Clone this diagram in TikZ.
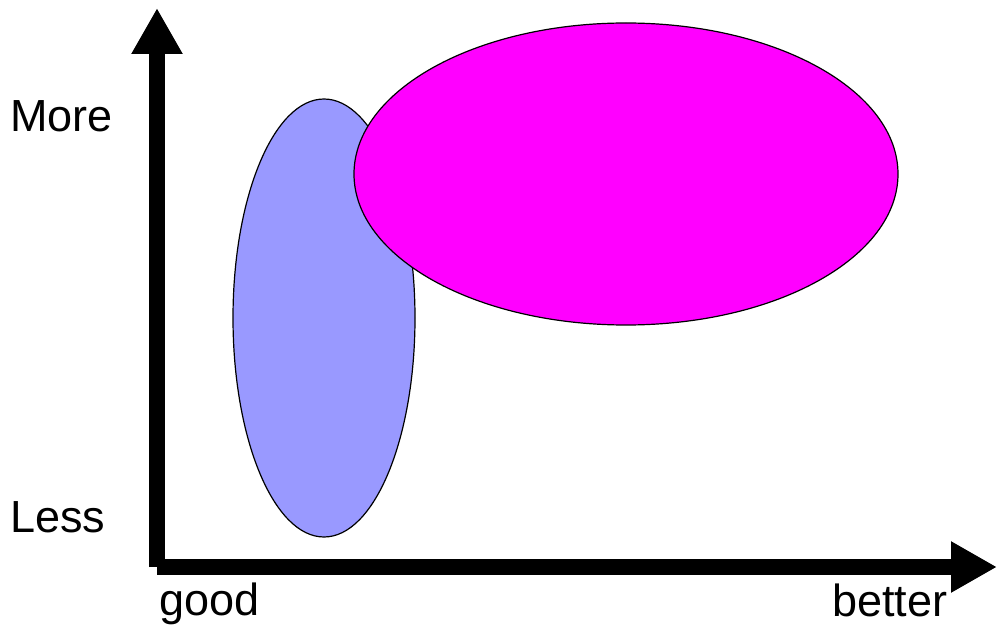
\documentclass[tikz,border=0pt]{standalone}
\usepackage{fontspec}
\setmainfont{Liberation Sans}
\usetikzlibrary{arrows.meta}
\definecolor{lightblue}{HTML}{9999FF}
\definecolor{magentafill}{HTML}{FF00FF}
\tikzset{
  axis/.style={line width=16pt, line cap=butt, -{Triangle[length=46pt,width=48pt]}},
  blob/.style={draw=black, line width=1.2pt},
  lbl/.style={inner sep=0pt, anchor=base west, font=\fontsize{45}{50}\selectfont}
}
\begin{document}
\begin{tikzpicture}[x=1pt,y=-1pt]
\useasboundingbox (0,0) rectangle (997,631);
\fill[white] (0,0) rectangle (997,631);
\coordinate (origin) at (157,567);
\coordinate (ytip) at (157,8);
\coordinate (xtip) at (997,567);
\draw[axis] (157,567) -- (ytip);
\draw[axis] (origin) -- (xtip);
\draw[blob, fill=lightblue] (324,318) ellipse [x radius=91, y radius=219];
\draw[blob, fill=magentafill] (626,174) ellipse [x radius=272, y radius=151];
\node[lbl] (more) at (10,132) {More};
\node[lbl] (less) at (10,532) {Less};
\node[lbl] (good) at (159,615) {good};
\node[lbl] (better) at (832,616) {better};
\end{tikzpicture}
\end{document}
